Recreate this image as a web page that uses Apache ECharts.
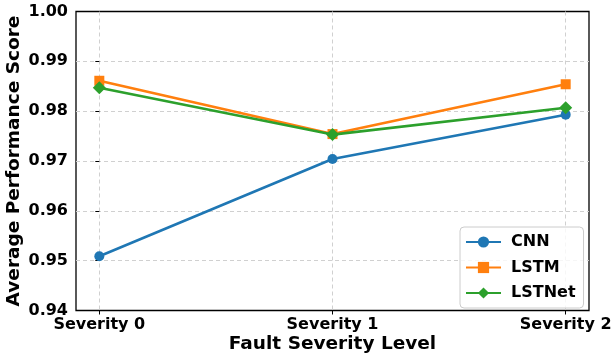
<!DOCTYPE html>
<html>
<head>
<meta charset="utf-8">
<script src="https://cdn.jsdelivr.net/npm/echarts@6/dist/echarts.min.js"></script>
<style>
  html, body { margin: 0; padding: 0; background: #ffffff; }
  #chart { width: 612px; height: 358px; }
</style>
</head>
<body>
<div id="chart"></div>
<script>
// Fault severity categories on the x axis
const severityLevels = ['Severity 0', 'Severity 1', 'Severity 2'];

// Average performance score per model
const cnnScores = [0.9509, 0.9704, 0.9793];
const lstmScores = [0.9861, 0.9754, 0.9854];
const lstnetScores = [0.9847, 0.9753, 0.9807];

// Y axis ticks
const yTicks = [0.94, 0.95, 0.96, 0.97, 0.98, 0.99, 1.00];

const FONT = 'DejaVu Sans';

function toPoints(values) {
  return values.map((v, i) => [i, v]);
}

const chart = echarts.init(document.getElementById('chart'), null, { renderer: 'canvas' });

const tickIdx = severityLevels.map((_, i) => i);

const gridLineStyle = { color: '#d0d0d0', width: 1, type: [4, 3] };

const option = {
  animation: false,
  backgroundColor: '#ffffff',
  grid: {
    left: 76, right: 23, top: 11.5, bottom: 47.5,
    outerBoundsMode: 'none',
    containLabel: false,
    show: true, borderColor: '#000000', borderWidth: 1.3,
    backgroundColor: 'transparent'
  },
  xAxis: {
    type: 'value',
    min: -0.1,
    max: 2.1,
    name: 'Fault Severity Level',
    nameLocation: 'middle',
    nameGap: 24,
    nameMoveOverlap: false,
    nameTextStyle: { fontFamily: FONT, fontWeight: 'bold', fontSize: 18.5, color: '#000' },
    axisLine: { show: false },
    axisTick: { show: true, length: 4, inside: false, customValues: tickIdx, lineStyle: { color: '#000', width: 1 } },
    axisLabel: {
      customValues: tickIdx,
      margin: 6,
      fontFamily: FONT, fontWeight: 'bold', fontSize: 16, color: '#000',
      formatter: (v) => severityLevels[Math.round(v)] || ''
    },
    splitLine: { show: true, lineStyle: gridLineStyle }
  },
  yAxis: {
    type: 'value',
    min: 0.94,
    max: 1.00,
    interval: 0.01,
    name: 'Average Performance Score',
    nameLocation: 'middle',
    nameGap: 52,
    nameMoveOverlap: false,
    nameTextStyle: { fontFamily: FONT, fontWeight: 'bold', fontSize: 18.5, color: '#000' },
    axisLine: { show: false },
    axisTick: { show: true, length: 4, inside: false, customValues: yTicks, lineStyle: { color: '#000', width: 1 } },
    axisLabel: {
      customValues: yTicks,
      margin: 8,
      fontFamily: FONT, fontWeight: 'bold', fontSize: 16, color: '#000',
      formatter: (v) => v.toFixed(2)
    },
    splitLine: { show: true, showMinLine: false, showMaxLine: false, lineStyle: gridLineStyle }
  },
  legend: {
    orient: 'vertical',
    left: 460,
    top: 227,
    padding: [7, 8, 7, 5],
    itemWidth: 35,
    itemHeight: 14,
    itemGap: 9.5,
    backgroundColor: 'rgba(255,255,255,0.8)',
    borderColor: '#cccccc',
    borderWidth: 1,
    borderRadius: 4,
    textStyle: { fontFamily: FONT, fontWeight: 'bold', fontSize: 16, color: '#000', padding: [0, 0, 0, 5] },
    data: ['CNN', 'LSTM', 'LSTNet']
  },
  series: [
    {
      name: 'CNN', type: 'line', data: toPoints(cnnScores),
      symbol: 'circle', symbolSize: 10,
      itemStyle: { color: '#1f77b4' },
      lineStyle: { color: '#1f77b4', width: 2.6 },
      z: 3
    },
    {
      name: 'LSTM', type: 'line', data: toPoints(lstmScores),
      symbol: 'rect', symbolSize: 10,
      itemStyle: { color: '#ff7f0e' },
      lineStyle: { color: '#ff7f0e', width: 2.6 },
      z: 4
    },
    {
      name: 'LSTNet', type: 'line', data: toPoints(lstnetScores),
      symbol: 'diamond', symbolSize: 13,
      itemStyle: { color: '#2ca02c' },
      lineStyle: { color: '#2ca02c', width: 2.6 },
      z: 5
    }
  ]
};

chart.setOption(option);
</script>
</body>
</html>
